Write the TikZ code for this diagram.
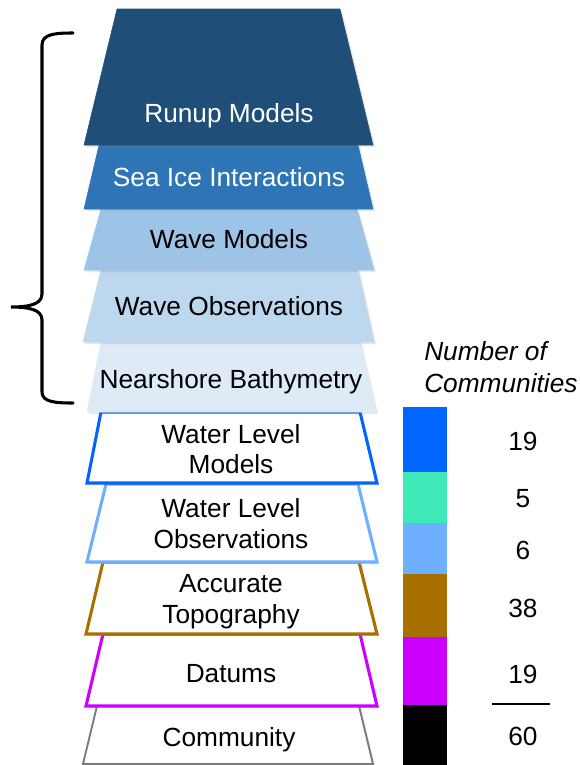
\documentclass[tikz,border=0pt]{standalone}
\usepackage{fontspec}
\setmainfont{Liberation Sans}
\usetikzlibrary{shadows}
\definecolor{runupc}{HTML}{1F4E79}
\definecolor{seaicec}{HTML}{2E75B6}
\definecolor{wavemodc}{HTML}{9DC3E6}
\definecolor{waveobsc}{HTML}{BDD7EE}
\definecolor{nearc}{HTML}{DEEBF7}
\definecolor{wlmc}{HTML}{0066FF}
\definecolor{tealc}{HTML}{40EAB8}
\definecolor{wloc}{HTML}{6FAFFF}
\definecolor{topoc}{HTML}{A87000}
\definecolor{datc}{HTML}{CC00FF}
\definecolor{commc}{HTML}{7A7A7A}
\begin{document}
\begin{tikzpicture}[x=0.75pt,y=-0.75pt,
  lbl/.style={font=\fontsize{19.7}{22}\selectfont, anchor=base, inner sep=0pt},
  band/.style={drop shadow={opacity=0.18, shadow xshift=1.6pt, shadow yshift=-1.6pt}},
  fillband/.style={band, fill=#1, draw=#1, line width=0.4pt},
  lineband/.style={band, fill=white, draw=#1, line width=2.3pt, line join=miter},
  legbar/.style={fill=#1, draw=none}]
\useasboundingbox (0,0) rectangle (580,765);

% bands, drawn from the bottom up
\path[lineband=commc, line width=1.4pt] (97,706) -- (359,706) -- (373,764) -- (83,764) -- cycle;
\path[lineband=datc] (103,634) -- (360,634) -- (377,706) -- (86,706) -- cycle;
\path[lineband=topoc] (103,562) -- (359,562) -- (377,634) -- (86,634) -- cycle;
\path[lineband=wloc] (106,484) -- (358,484) -- (377,562) -- (87,562) -- cycle;
\path[lineband=wlmc] (101,412) -- (360,412) -- (377,483) -- (87,483) -- cycle;
\path[fillband=nearc] (101,342) -- (360,342) -- (376,412) -- (87,412) -- cycle;
\path[fillband=waveobsc] (101,270) -- (358,270) -- (374,342) -- (83,342) -- cycle;
\path[fillband=wavemodc] (101,209) -- (357,209) -- (374,270) -- (84,270) -- cycle;
\path[fillband=seaicec] (99,145) -- (358,145) -- (373,209) -- (84,209) -- cycle;
\path[fillband=runupc] (117,9) -- (340,9) -- (373,145) -- (84,145) -- cycle;

% band labels
\node[lbl, text=white] (runup) at (229,122) {Runup Models};
\node[lbl, text=white] (seaice) at (229,186) {Sea Ice Interactions};
\node[lbl] (wavemod) at (229,248) {Wave Models};
\node[lbl] (waveobs) at (229,315) {Wave Observations};
\node[lbl] (near) at (231,388) {Nearshore Bathymetry};
\node[lbl] (wlma) at (231,443) {Water Level};
\node[lbl] (wlmb) at (231,473) {Models};
\node[lbl] (wloa) at (231,517) {Water Level};
\node[lbl] (wlob) at (231,548) {Observations};
\node[lbl] (topoa) at (231,592) {Accurate};
\node[lbl] (topob) at (231,623) {Topography};
\node[lbl] (dat) at (231,682) {Datums};
\node[lbl] (comm) at (229,746) {Community};

% brace
\draw[line width=2.3pt, line cap=round]
  (73,33) .. controls (55,33) and (42,34) .. (42,45) -- (42,294)
  .. controls (42,304) and (30,307) .. (11,307)
  .. controls (30,307) and (42,310) .. (42,320) -- (42,392)
  .. controls (42,402) and (55,403) .. (73,403);

% legend
\node[lbl, font=\fontsize{19.7}{22}\selectfont\itshape, anchor=base west] (legt1) at (424,360) {Number of};
\node[lbl, font=\fontsize{19.7}{22}\selectfont\itshape, anchor=base west] (legt2) at (424,392) {Communities};
\path[legbar=wlmc] (403,407) rectangle (447,472);
\path[legbar=tealc] (403,472) rectangle (447,523);
\path[legbar=wloc] (403,523) rectangle (447,574);
\path[legbar=topoc] (403,574) rectangle (447,637);
\path[legbar=datc] (403,637) rectangle (447,705);
\path[legbar=black] (403,705) rectangle (447,765);
\node[lbl] (n1) at (523,450) {19};
\node[lbl] (n2) at (523,507) {5};
\node[lbl] (n3) at (523,559) {6};
\node[lbl] (n4) at (523,617) {38};
\node[lbl] (n5) at (523,683) {19};
\coordinate (sumL) at (492,704);
\coordinate (sumR) at (550,704);
\draw[line width=0.8pt] (sumL) -- (sumR);
\node[lbl] (n6) at (523,745) {60};
\end{tikzpicture}
\end{document}
